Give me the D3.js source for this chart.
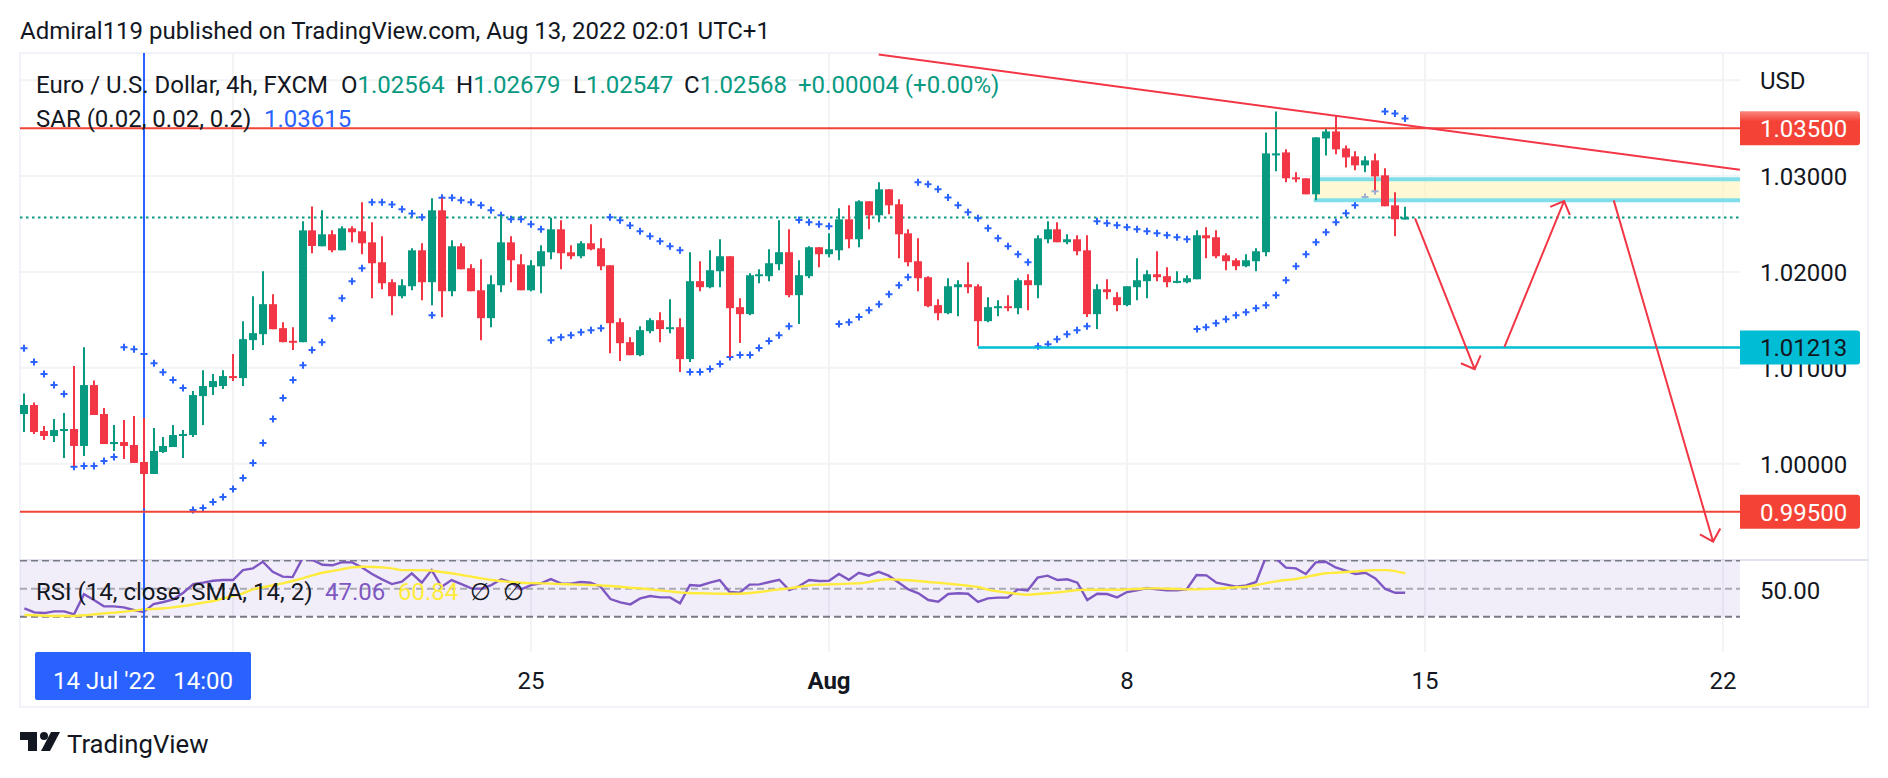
<!DOCTYPE html>
<html>
<head>
<meta charset="utf-8">
<script src="https://d3js.org/d3.v7.min.js"></script>
<style>
  html, body { margin: 0; padding: 0; background: #fff; overflow: hidden; }
  text { font-family: Roboto, sans-serif; fill: #131722; }
</style>
</head>
<body>
<div id="vis"></div>
<script>
// EUR/USD 4h candles. index 0 is the first bar on the left
const OPEN = [
  1.00518,1.00612,1.00341,1.00289,1.00341,1.00362,1.00185,1.00820,1.00518,1.00205,
  1.00226,1.00195,1.00018,0.99893,1.00122,1.00174,1.00289,1.00299,1.00705,1.00799,
  1.00810,1.00914,1.00893,1.01289,1.01351,1.01664,1.01414,1.01282,1.01268,1.02434,
  1.02268,1.02393,1.02226,1.02455,1.02424,1.02309,1.02101,1.01893,1.01747,1.01851,
  1.02226,1.01893,1.02643,1.01799,1.02268,1.02039,1.01809,1.01518,1.01861,1.02309,
  1.02080,1.01809,1.02059,1.02205,1.02445,1.02205,1.02164,1.02299,1.02247,1.02070,
  1.01476,1.01268,1.01132,1.01383,1.01497,1.01404,1.01424,1.01091,1.01904,1.01841,
  1.02008,1.02164,1.01633,1.01560,1.01956,1.01956,1.02081,1.02206,1.01758,1.01956,
  1.02258,1.02185,1.02226,1.02549,1.02341,1.02737,1.02591,1.02862,1.02706,1.02403,
  1.02112,1.01945,1.01654,1.01570,1.01841,1.01872,1.01851,1.01487,1.01622,1.01643,
  1.01622,1.01914,1.01862,1.02341,1.02445,1.02310,1.02341,1.02226,1.01560,1.01820,
  1.01737,1.01654,1.01841,1.01904,1.01976,1.01956,1.01893,1.01893,1.01924,1.02383,
  1.02362,1.02174,1.02122,1.02060,1.02112,1.02206,1.03227,1.03247,1.02987,1.02977,
  1.02810,1.03393,1.03466,1.03289,1.03206,1.03112,1.03164,1.03008,1.02695,1.02564
];
const HIGH = [
  1.00733,1.00639,1.00393,1.00466,1.00528,1.01018,1.01216,1.00869,1.00580,1.00403,
  1.00455,1.00497,1.00476,1.00372,1.00278,1.00403,1.00351,1.00758,1.00976,1.00935,
  1.00976,1.01143,1.01487,1.01747,1.02007,1.01768,1.01476,1.01424,1.02528,1.02684,
  1.02643,1.02434,1.02476,1.02476,1.02726,1.02518,1.02372,1.01924,1.01924,1.02247,
  1.02299,1.02768,1.02768,1.02330,1.02299,1.02080,1.02132,1.01966,1.02594,1.02372,
  1.02184,1.02122,1.02278,1.02566,1.02539,1.02278,1.02320,1.02497,1.02351,1.02070,
  1.01518,1.01320,1.01434,1.01518,1.01581,1.01716,1.01518,1.02206,1.02112,1.02226,
  1.02341,1.02164,1.01726,1.01987,1.02029,1.02237,1.02539,1.02445,1.02122,1.02268,
  1.02258,1.02403,1.02664,1.02695,1.02747,1.02737,1.02935,1.02862,1.02758,1.02445,
  1.02351,1.01956,1.01716,1.01935,1.01914,1.02101,1.01872,1.01737,1.01706,1.01758,
  1.01935,1.01976,1.02383,1.02528,1.02518,1.02393,1.02383,1.02383,1.01872,1.01924,
  1.01789,1.01851,1.02143,1.02018,1.02216,1.02049,1.02008,1.01966,1.02435,1.02466,
  1.02435,1.02195,1.02143,1.02185,1.02247,1.03456,1.03674,1.03279,1.03039,1.02977,
  1.03404,1.03504,1.03622,1.03320,1.03258,1.03206,1.03237,1.03081,1.02831,1.02679
];
const LOW = [
  1.00330,1.00310,1.00247,1.00226,1.00060,0.99976,1.00080,1.00508,1.00205,1.00133,
  1.00049,1.00008,0.99535,0.99893,1.00112,1.00174,1.00060,1.00278,1.00403,1.00716,
  1.00778,1.00862,1.00810,1.01185,1.01237,1.01403,1.01268,1.01185,1.01268,1.02195,
  1.02268,1.02205,1.02226,1.02309,1.02184,1.01726,1.01820,1.01549,1.01726,1.01809,
  1.01705,1.01653,1.01528,1.01747,1.02028,1.01799,1.01289,1.01424,1.01789,1.01893,
  1.01809,1.01799,1.01778,1.02132,1.02028,1.02132,1.02143,1.02226,1.02018,1.01153,
  1.01070,1.01132,1.01122,1.01362,1.01268,1.01362,1.00956,1.01060,1.01799,1.01831,
  1.01841,1.01112,1.01258,1.01549,1.01883,1.01904,1.02018,1.01737,1.01456,1.01935,
  1.02049,1.02153,1.02122,1.02247,1.02258,1.02445,1.02518,1.02601,1.02143,1.02060,
  1.01799,1.01633,1.01497,1.01560,1.01539,1.01779,1.01226,1.01476,1.01539,1.01591,
  1.01560,1.01601,1.01726,1.02299,1.02310,1.02289,1.02174,1.01529,1.01404,1.01716,
  1.01591,1.01643,1.01706,1.01726,1.01904,1.01841,1.01883,1.01883,1.01924,1.02143,
  1.02143,1.02018,1.02018,1.02049,1.02008,1.02164,1.03050,1.02935,1.02935,1.02810,
  1.02747,1.03216,1.03227,1.03091,1.03060,1.03039,1.02852,1.02685,1.02372,1.02547
];
const CLOSE = [
  1.00612,1.00330,1.00289,1.00351,1.00362,1.00185,1.00820,1.00508,1.00205,1.00226,
  1.00185,1.00008,0.99893,1.00133,1.00185,1.00299,1.00310,1.00716,1.00810,1.00862,
  1.00914,1.00893,1.01299,1.01362,1.01664,1.01403,1.01268,1.01268,1.02434,1.02271,
  1.02393,1.02226,1.02455,1.02414,1.02299,1.02091,1.01882,1.01747,1.01861,1.02226,
  1.01893,1.02643,1.01799,1.02268,1.02028,1.01799,1.01518,1.01872,1.02309,1.02122,
  1.01809,1.02070,1.02216,1.02445,1.02195,1.02164,1.02299,1.02236,1.02059,1.01466,
  1.01257,1.01132,1.01393,1.01497,1.01404,1.01424,1.01091,1.01904,1.01841,1.02018,
  1.02164,1.01622,1.01560,1.01966,1.01976,1.02091,1.02206,1.01758,1.01966,1.02258,
  1.02185,1.02237,1.02549,1.02341,1.02737,1.02591,1.02862,1.02695,1.02393,1.02101,
  1.01935,1.01643,1.01570,1.01851,1.01872,1.01841,1.01487,1.01633,1.01643,1.01622,
  1.01914,1.01862,1.02351,1.02445,1.02310,1.02341,1.02216,1.01560,1.01820,1.01789,
  1.01654,1.01851,1.01914,1.01976,1.01945,1.01893,1.01907,1.01935,1.02383,1.02351,
  1.02164,1.02112,1.02060,1.02122,1.02216,1.03237,1.03237,1.02977,1.02966,1.02810,
  1.03404,1.03466,1.03279,1.03195,1.03112,1.03164,1.02997,1.02685,1.02550,1.02568
];
// parabolic SAR, one value per bar
const SAR = [
  1.01205,1.01060,1.00935,1.00820,1.00726,0.99969,0.99976,0.99976,1.00028,1.00070,
  1.01216,1.01195,1.01143,1.01049,1.00955,1.00872,1.00789,0.99518,0.99539,0.99601,
  0.99653,0.99737,0.99851,1.00008,1.00216,1.00466,1.00685,1.00872,1.01028,1.01185,
  1.01268,1.01518,1.01726,1.01903,1.02039,1.02726,1.02726,1.02705,1.02653,1.02611,
  1.02570,1.01549,1.02775,1.02775,1.02747,1.02726,1.02695,1.02643,1.02591,1.02549,
  1.02549,1.02497,1.02445,1.01289,1.01320,1.01341,1.01372,1.01393,1.01414,1.02570,
  1.02539,1.02486,1.02424,1.02372,1.02320,1.02268,1.02226,1.00956,1.00956,1.00987,
  1.01039,1.01112,1.01133,1.01133,1.01206,1.01279,1.01341,1.01435,1.02542,1.02518,
  1.02497,1.02476,1.01456,1.01476,1.01529,1.01601,1.01664,1.01768,1.01862,1.01945,
  1.02935,1.02914,1.02862,1.02778,1.02695,1.02622,1.02560,1.02456,1.02351,1.02268,
  1.02185,1.02101,1.01226,1.01247,1.01299,1.01351,1.01393,1.01435,1.02528,1.02508,
  1.02487,1.02466,1.02445,1.02424,1.02403,1.02383,1.02362,1.02341,1.01404,1.01424,
  1.01466,1.01508,1.01549,1.01581,1.01622,1.01654,1.01758,1.01914,1.02060,1.02185,
  1.02310,1.02414,1.02518,1.02612,1.02695,1.02782,1.02841,1.03674,1.03654,1.03602
];
const RSI = [
  36.0,33.1,32.6,33.8,33.8,31.7,46.0,41.9,37.4,37.4,
  36.7,34.8,33.3,39.0,40.5,42.4,47.1,53.3,54.3,55.7,
  56.2,56.2,63.3,64.5,69.3,62.1,58.6,58.3,71.7,70.5,
  67.1,66.7,69.0,68.8,65.2,60.5,56.7,53.3,55.0,61.0,
  54.3,63.3,51.4,56.2,53.3,50.2,50.0,52.6,56.7,54.5,
  49.5,52.6,53.8,56.9,53.8,53.6,54.8,54.3,51.4,42.6,
  40.2,38.8,43.1,44.8,43.8,43.8,39.5,52.6,52.1,54.3,
  56.2,47.6,47.1,52.9,53.1,54.8,56.4,49.0,51.9,56.2,
  55.5,55.7,60.5,56.4,61.4,59.3,62.1,59.3,54.5,49.5,
  46.7,41.9,40.7,46.2,46.7,46.4,40.5,43.1,43.6,43.6,
  49.5,48.8,57.9,59.3,56.2,56.7,54.3,41.9,46.4,46.2,
  43.8,47.6,48.8,50.5,49.5,48.8,48.8,49.5,59.8,59.5,
  54.3,52.9,51.4,52.4,54.8,72.9,71.5,65.0,64.5,60.5,
  68.8,69.3,65.2,62.9,60.5,61.4,57.4,49.8,47.1,47.06
];
const RSI_SMA = [
  31.2,31.0,30.7,30.5,30.5,30.5,31.0,31.7,32.4,32.9,
  33.6,34.3,35.2,35.5,36.0,36.7,37.6,38.8,40.0,41.2,
  43.1,44.8,46.7,49.5,51.0,52.4,53.8,55.5,57.4,59.5,
  61.4,62.6,64.0,65.2,65.7,65.5,65.2,64.5,63.3,63.3,
  63.3,62.9,61.9,61.0,59.8,58.6,57.4,56.2,55.5,54.8,
  54.3,54.0,53.8,53.6,53.3,53.1,52.9,52.6,52.4,51.9,
  51.4,50.7,50.2,49.5,48.8,48.1,47.4,46.9,46.7,46.6,
  46.4,46.4,46.4,46.9,47.6,48.6,49.5,50.2,51.4,52.4,
  52.9,53.1,53.3,53.6,53.8,54.8,56.0,56.7,56.4,56.0,
  55.5,54.8,54.3,53.6,52.9,52.1,51.2,49.3,48.1,47.1,
  46.2,45.7,46.2,46.7,47.4,48.1,49.0,49.3,49.3,49.3,
  49.3,49.5,49.8,50.2,50.2,50.0,49.8,49.5,49.5,49.8,
  50.0,50.5,51.0,51.4,52.6,54.0,55.2,56.2,56.9,58.3,
  59.8,61.0,61.4,61.9,62.4,62.9,63.3,63.3,62.6,60.84
];

const PRICE_TICKS = [1.04, 1.03, 1.02, 1.01, 1.00];
const PRICE_LABELS = [1.03, 1.02, 1.01, 1.00];
const WEEK_BARS = [21, 51, 81, 111, 141, 171];
const WEEK_LABELS = ["18", "25", "Aug", "8", "15", "22"];
const RSI_LEVELS = [70, 50, 30];

// drawn objects on the chart, [bar, price]
const CROSSHAIR_BAR = 12;
const RED_LEVELS = [1.035, 0.995];
const SUPPORT = {bar: 96, price: 1.01213};
const TREND = [[86, 1.04268], [172.7, 1.03065]];
const ZONE = {bar: 129.8, top: 1.02966, bottom: 1.02747};
const ARROWS = [
  [[140, 1.02559], [146, 1.00986]],
  [[149, 1.01219], [155, 1.02740]],
  [[160, 1.02747], [170, 0.99188]]
];
const LAST_CLOSE = 1.02568;

//frame
const FRAME_WIDTH = 1888;
const FRAME_HEIGHT = 778;
const LEFT = 20, PANE_RIGHT = 1740, RIGHT = 1868;
const TOP = 53, PANE_BOTTOM = 560, AXIS_TOP = 652, BOTTOM = 707;
const AXIS_X = 1760;

const GREEN = "#089981", RED = "#f23645", LINE_RED = "#f44336";
const BLUE = "#2962ff", CYAN = "#00bcd4", GRID = "#f2f3f5", BORDER = "#f0f3fa";

//scale
const X = d3.scaleLinear().domain([21, 171]).range([233, 1723]);
const Y = d3.scaleLinear().domain([1.00, 1.03]).range([463.7, 176.1]);
const Y_RSI = d3.scaleLinear().domain([30, 70]).range([616.7, 560.7]);

const FRAME = d3.select("#vis")
  .append("svg")
  .attr("width", FRAME_WIDTH)
  .attr("height", FRAME_HEIGHT);

const defs = FRAME.append("defs");

defs.append("clipPath").attr("id", "pane")
  .append("rect")
  .attr("x", LEFT).attr("y", TOP)
  .attr("width", PANE_RIGHT - LEFT).attr("height", PANE_BOTTOM - TOP);

defs.append("clipPath").attr("id", "rsipane")
  .append("rect")
  .attr("x", LEFT).attr("y", PANE_BOTTOM)
  .attr("width", PANE_RIGHT - LEFT).attr("height", AXIS_TOP - PANE_BOTTOM);

// the top tag fades lighter at its upper edge
const tagFade = defs.append("linearGradient").attr("id", "tagfade")
  .attr("x1", 0).attr("y1", 0).attr("x2", 0).attr("y2", 1);
tagFade.append("stop").attr("offset", "0").attr("stop-color", "#f9877e");
tagFade.append("stop").attr("offset", "0.3").attr("stop-color", LINE_RED);

// outer border
FRAME.append("rect")
  .attr("x", LEFT).attr("y", TOP)
  .attr("width", RIGHT - LEFT).attr("height", BOTTOM - TOP)
  .attr("fill", "none").attr("stroke", BORDER).attr("stroke-width", 2);

// grid
FRAME.selectAll(".vgrid").data(WEEK_BARS).enter().append("line")
  .attr("x1", d => X(d)).attr("x2", d => X(d))
  .attr("y1", TOP).attr("y2", AXIS_TOP)
  .attr("stroke", GRID).attr("stroke-width", 2);

FRAME.selectAll(".hgrid").data(PRICE_TICKS).enter().append("line")
  .attr("x1", LEFT).attr("x2", PANE_RIGHT)
  .attr("y1", d => Y(d)).attr("y2", d => Y(d))
  .attr("stroke", GRID).attr("stroke-width", 2);

// rsi pane
FRAME.append("rect")
  .attr("x", LEFT).attr("y", Y_RSI(70))
  .attr("width", PANE_RIGHT - LEFT).attr("height", Y_RSI(30) - Y_RSI(70))
  .attr("fill", "#7e57c2").attr("fill-opacity", 0.1);

FRAME.append("line")
  .attr("x1", LEFT).attr("x2", RIGHT)
  .attr("y1", PANE_BOTTOM).attr("y2", PANE_BOTTOM)
  .attr("stroke", "#e0e3eb").attr("stroke-width", 2);

FRAME.selectAll(".rsilevel").data(RSI_LEVELS).enter().append("line")
  .attr("x1", LEFT).attr("x2", PANE_RIGHT)
  .attr("y1", d => Y_RSI(d)).attr("y2", d => Y_RSI(d))
  .attr("stroke", "#787b86")
  .attr("stroke-opacity", d => d == 50 ? 0.6 : 1)
  .attr("stroke-width", d => d == 70 ? 1.5 : 2)
  .attr("stroke-dasharray", "7 4");

const rsiLine = FRAME.append("g").attr("clip-path", "url(#rsipane)");
const bars = d3.range(OPEN.length);

rsiLine.append("path")
  .attr("d", d3.line().x(i => X(i)).y(i => Y_RSI(RSI[i]))(bars))
  .attr("fill", "none").attr("stroke", "#7e57c2").attr("stroke-width", 2.4);

rsiLine.append("path")
  .attr("d", d3.line().x(i => X(i)).y(i => Y_RSI(RSI_SMA[i])).curve(d3.curveMonotoneX)(bars))
  .attr("fill", "none").attr("stroke", "#ffeb3b").attr("stroke-width", 2.4);

// main pane
const pane = FRAME.append("g").attr("clip-path", "url(#pane)");

// last close dots
pane.append("line")
  .attr("x1", LEFT).attr("x2", PANE_RIGHT)
  .attr("y1", Y(LAST_CLOSE)).attr("y2", Y(LAST_CLOSE))
  .attr("stroke", GREEN).attr("stroke-width", 2).attr("stroke-dasharray", "2.5 3.5");

// sar crosses
pane.selectAll(".sar").data(bars).enter().append("path")
  .attr("d", i => {
    const cx = Math.round(X(i)), cy = Y(SAR[i]);
    return `M${cx - 3.5},${cy}H${cx + 3.5}M${cx},${cy - 3.5}V${cy + 3.5}`;
  })
  .attr("stroke", BLUE).attr("stroke-width", 2).attr("fill", "none");

// zone
pane.append("rect")
  .attr("x", X(ZONE.bar)).attr("y", Y(ZONE.top))
  .attr("width", PANE_RIGHT - X(ZONE.bar)).attr("height", Y(ZONE.bottom) - Y(ZONE.top))
  .attr("fill", "#fff3b0").attr("fill-opacity", 0.55);

pane.selectAll(".zoneedge").data([ZONE.top, ZONE.bottom]).enter().append("line")
  .attr("x1", X(ZONE.bar)).attr("x2", PANE_RIGHT)
  .attr("y1", d => Y(d)).attr("y2", d => Y(d))
  .attr("stroke", "#80deea").attr("stroke-width", 4);

// crosshair goes over the rsi pane too
FRAME.append("line")
  .attr("x1", Math.round(X(CROSSHAIR_BAR))).attr("x2", Math.round(X(CROSSHAIR_BAR)))
  .attr("y1", TOP).attr("y2", AXIS_TOP)
  .attr("stroke", BLUE).attr("stroke-width", 2);

// candles
const candleColor = i => CLOSE[i] >= OPEN[i] ? GREEN : RED;
const candles = FRAME.append("g").attr("clip-path", "url(#pane)");

candles.selectAll(".wick").data(bars).enter().append("line")
  .attr("x1", i => Math.round(X(i))).attr("x2", i => Math.round(X(i)))
  .attr("y1", i => Y(HIGH[i])).attr("y2", i => Y(LOW[i]))
  .attr("stroke", candleColor).attr("stroke-width", 2);

candles.selectAll(".body").data(bars).enter().append("rect")
  .attr("x", i => Math.round(X(i)) - 4)
  .attr("y", i => Y(Math.max(OPEN[i], CLOSE[i])))
  .attr("width", 8)
  .attr("height", i => Math.max(2, Math.abs(Y(OPEN[i]) - Y(CLOSE[i]))))
  .attr("fill", candleColor);

// levels
candles.selectAll(".level").data(RED_LEVELS).enter().append("line")
  .attr("x1", LEFT).attr("x2", PANE_RIGHT)
  .attr("y1", d => Y(d)).attr("y2", d => Y(d))
  .attr("stroke", LINE_RED).attr("stroke-width", 2);

candles.append("line")
  .attr("x1", X(SUPPORT.bar)).attr("x2", PANE_RIGHT)
  .attr("y1", Y(SUPPORT.price)).attr("y2", Y(SUPPORT.price))
  .attr("stroke", CYAN).attr("stroke-width", 2.5);

// trend line and arrows
candles.append("line")
  .attr("x1", X(TREND[0][0])).attr("y1", Y(TREND[0][1]))
  .attr("x2", X(TREND[1][0])).attr("y2", Y(TREND[1][1]))
  .attr("stroke", RED).attr("stroke-width", 2);

ARROWS.forEach(a => {
  const x1 = X(a[0][0]), y1 = Y(a[0][1]), x2 = X(a[1][0]), y2 = Y(a[1][1]);
  const ang = Math.atan2(y2 - y1, x2 - x1);
  const head = 15, spread = Math.PI / 4;
  const d = `M${x1},${y1}L${x2},${y2}` +
    `M${x2 - head * Math.cos(ang - spread)},${y2 - head * Math.sin(ang - spread)}L${x2},${y2}` +
    `L${x2 - head * Math.cos(ang + spread)},${y2 - head * Math.sin(ang + spread)}`;
  candles.append("path").attr("d", d)
    .attr("fill", "none").attr("stroke", RED).attr("stroke-width", 2);
});

// title
const FONT = 24;
FRAME.append("text").attr("x", 20).attr("y", 39).attr("font-size", FONT)
  .text("Admiral119 published on TradingView.com, Aug 13, 2022 02:01 UTC+1");

// legend
FRAME.append("text").attr("x", 36).attr("y", 93).attr("font-size", FONT)
  .text("Euro / U.S. Dollar, 4h, FXCM");

const OHLC_X = [341, 456, 573, 684];
const OHLC_KEYS = ["O", "H", "L", "C"];
const OHLC_VALUES = ["1.02564", "1.02679", "1.02547", "1.02568"];
OHLC_KEYS.forEach((k, i) => {
  const t = FRAME.append("text").attr("x", OHLC_X[i]).attr("y", 93).attr("font-size", FONT);
  t.append("tspan").text(k);
  t.append("tspan").style("fill", GREEN).text(OHLC_VALUES[i]);
});
FRAME.append("text").attr("x", 798).attr("y", 93).attr("font-size", FONT)
  .style("fill", GREEN).text("+0.00004 (+0.00%)");

FRAME.append("text").attr("x", 36).attr("y", 127).attr("font-size", FONT)
  .text("SAR (0.02, 0.02, 0.2)");
FRAME.append("text").attr("x", 264).attr("y", 127).attr("font-size", FONT)
  .style("fill", BLUE).text("1.03615");

FRAME.append("text").attr("x", 36).attr("y", 600).attr("font-size", FONT)
  .text("RSI (14, close, SMA, 14, 2)");
FRAME.append("text").attr("x", 325).attr("y", 600).attr("font-size", FONT)
  .style("fill", "#7e57c2").text("47.06");
FRAME.append("text").attr("x", 398).attr("y", 600).attr("font-size", FONT)
  .style("fill", "#ffeb3b").text("60.84");
FRAME.append("text").attr("x", 470).attr("y", 600).attr("font-size", FONT).text("∅");
FRAME.append("text").attr("x", 503).attr("y", 600).attr("font-size", FONT).text("∅");

// price axis
FRAME.append("text").attr("x", AXIS_X).attr("y", 89).attr("font-size", FONT).text("USD");

FRAME.selectAll(".pricelabel").data(PRICE_LABELS).enter().append("text")
  .attr("x", AXIS_X).attr("y", d => Y(d) + 9).attr("font-size", FONT)
  .text(d => d.toFixed(5));

FRAME.append("text").attr("x", AXIS_X).attr("y", Y_RSI(50) + 10).attr("font-size", FONT).text("50.00");

const TAGS = [
  {price: 1.035, fill: "url(#tagfade)", color: "#fff"},
  {price: 1.01213, fill: CYAN, color: "#131722"},
  {price: 0.995, fill: LINE_RED, color: "#fff"}
];
TAGS.forEach(t => {
  FRAME.append("path")
    .attr("d", `M${PANE_RIGHT},${Y(t.price) - 17}H1857a3,3 0 0 1 3,3V${Y(t.price) + 14}a3,3 0 0 1 -3,3H${PANE_RIGHT}Z`)
    .attr("fill", t.fill);
  FRAME.append("text").attr("x", AXIS_X).attr("y", Y(t.price) + 9).attr("font-size", FONT)
    .style("fill", t.color).text(t.price.toFixed(5));
});

// time axis
WEEK_LABELS.forEach((l, i) => {
  if (i == 0) return; // under the crosshair tag
  FRAME.append("text").attr("x", X(WEEK_BARS[i])).attr("y", 689)
    .attr("text-anchor", "middle").attr("font-size", FONT)
    .attr("font-weight", l == "Aug" ? 700 : 400).text(l);
});

FRAME.append("rect")
  .attr("x", 35).attr("y", AXIS_TOP).attr("width", 216).attr("height", 48).attr("rx", 2)
  .attr("fill", BLUE);
FRAME.append("text").attr("x", 143).attr("y", 689)
  .attr("text-anchor", "middle").attr("font-size", FONT)
  .style("fill", "#fff").style("white-space", "pre").text("14 Jul '22   14:00");

// logo
const logo = FRAME.append("g").attr("transform", "translate(20,732)").attr("fill", "#131722");
logo.append("path").attr("d", "M0,0H17V19H8V8H0Z");
logo.append("circle").attr("cx", 24).attr("cy", 4).attr("r", 4);
logo.append("path").attr("d", "M31,0H40L30,19H21Z");
FRAME.append("text").attr("x", 67).attr("y", 753).attr("font-size", 25.7).text("TradingView");
</script>
</body>
</html>
